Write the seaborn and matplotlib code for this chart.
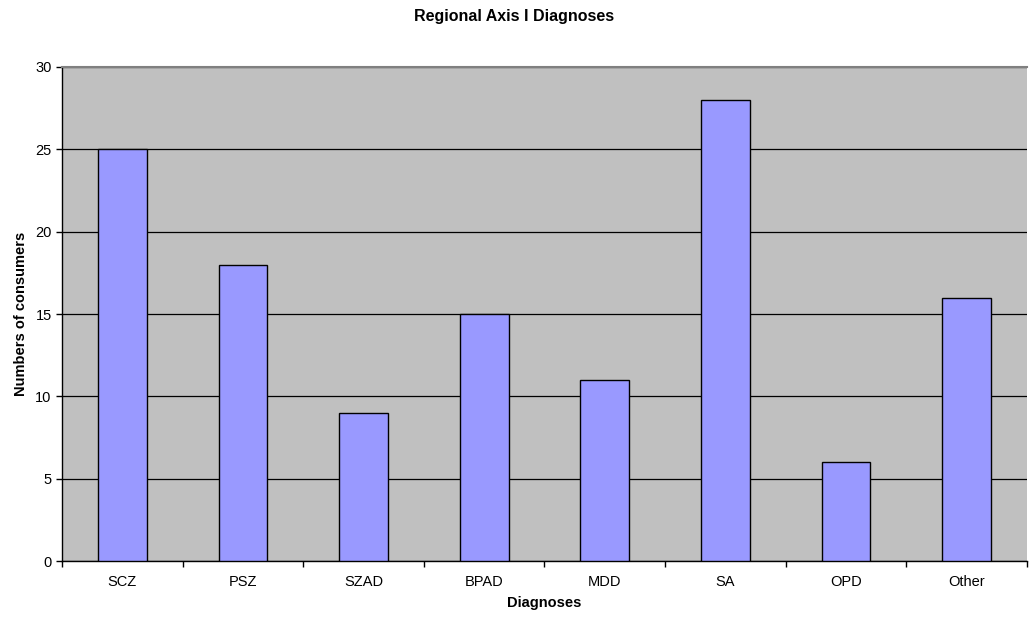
import matplotlib
matplotlib.use("Agg")
import matplotlib.pyplot as plt
import seaborn as sns
import pandas as pd
import numpy as np

categories = ["SCZ", "PSZ", "SZAD", "BPAD", "MDD", "SA", "OPD", "Other"]
counts = [25, 18, 9, 15, 11, 28, 6, 16]
y_ticks = [0, 5, 10, 15, 20, 25, 30]

df = pd.DataFrame({"Diagnoses": categories, "Count": counts})

sns.set_style("white")
plt.rcParams["font.family"] = ["Liberation Sans", "DejaVu Sans"]
plt.rcParams["text.color"] = "black"
plt.rcParams["axes.labelcolor"] = "black"
plt.rcParams["xtick.color"] = "black"
plt.rcParams["ytick.color"] = "black"

fig = plt.figure(figsize=(10.29, 6.18), dpi=100)
ax = fig.add_axes([0.0603, 0.0922, 0.9376, 0.7994])
ax.set_facecolor("#C0C0C0")

sns.barplot(data=df, x="Diagnoses", y="Count", order=categories,
            color="#9999FF", saturation=1, width=0.405,
            edgecolor="black", linewidth=1, ax=ax, zorder=3)

ax.set_ylim(0, 30)
ax.set_xlim(-0.5, len(categories) - 0.5)
ax.set_yticks(y_ticks)
ax.yaxis.grid(True, color="black", linewidth=0.9, zorder=1)
ax.set_axisbelow(True)

# category labels centred, tick marks on the boundaries
ax.set_xticks(range(len(categories)))
ax.set_xticklabels(categories, fontsize=10.5)
ax.tick_params(axis="x", which="major", bottom=True, length=0, pad=9.8)
ax.set_xticks(np.arange(-0.5, len(categories), 1.0), minor=True)
ax.tick_params(axis="x", which="minor", bottom=True, length=4.5, width=1,
               color="black", direction="out")
ax.tick_params(axis="y", left=True, length=4, width=1, color="black",
               direction="out", labelsize=10.5, pad=3.5)

for side in ["left", "bottom"]:
    ax.spines[side].set_color("black")
    ax.spines[side].set_linewidth(1)
ax.spines["top"].set_color("#808080")
ax.spines["top"].set_linewidth(1.5)
ax.spines["right"].set_visible(False)

ax.set_xlabel("Diagnoses", fontsize=10.5, fontweight="bold", labelpad=5.4)
ax.set_ylabel("Numbers of consumers", fontsize=10.5, fontweight="bold", labelpad=5.4)
fig.suptitle("Regional Axis I Diagnoses", fontsize=11.5, fontweight="bold",
             y=0.974, va="center")

fig.savefig("out.png", dpi=100)
